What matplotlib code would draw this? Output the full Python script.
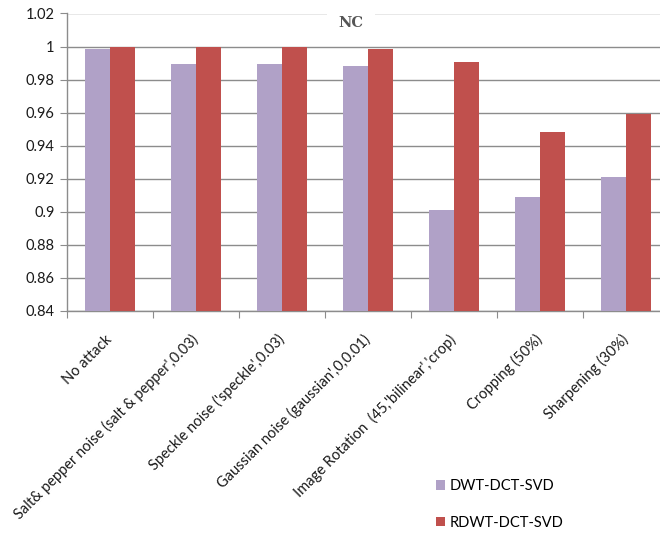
import matplotlib
matplotlib.use('Agg')
import matplotlib.pyplot as plt
import numpy as np
from matplotlib.patches import Patch
from matplotlib.ticker import FixedLocator, FuncFormatter

plt.rcParams['font.family'] = ['Lato', 'DejaVu Sans']

categories = [
    "No attack",
    "Salt& pepper noise (salt & pepper',0.03)",
    "Speckle noise ('speckle',0.03)",
    "Gaussian noise (gaussian',0,0.01)",
    "Image Rotation  (45,'bilinear','crop)",
    "Cropping (50%)",
    "Sharpening (30%)",
]
series_names = ['DWT-DCT-SVD', 'RDWT-DCT-SVD']
dwt_values = [0.9988, 0.9895, 0.9895, 0.9885, 0.901, 0.9087, 0.921]
rdwt_values = [1.0, 1.0, 1.0, 0.9985, 0.9905, 0.9482, 0.9591]
y_ticks = [0.84, 0.86, 0.88, 0.90, 0.92, 0.94, 0.96, 0.98, 1.00, 1.02]
title_text = 'NC'

purple = '#B0A1C7'
red = '#C0504D'
grid_gray = '#8C8C8C'

W, H = 660, 535
fig = plt.figure(figsize=(W / 100, H / 100), dpi=100)
# axes extends slightly past the right edge, like the source
ax_left, ax_right, ax_top, ax_bottom = 67, 669, 13.5, 311
ax = fig.add_axes([ax_left / W, 1 - ax_bottom / H,
                   (ax_right - ax_left) / W, (ax_bottom - ax_top) / H])

x = np.arange(len(categories))
bar_w = 0.287
ax.bar(x - bar_w / 2, dwt_values, bar_w, color=purple, zorder=3)
ax.bar(x + bar_w / 2, rdwt_values, bar_w, color=red, zorder=3)

ax.set_xlim(-0.5, len(categories) - 0.5)
ax.set_ylim(y_ticks[0], y_ticks[-1])
ax.set_yticks(y_ticks)
ax.yaxis.set_major_formatter(FuncFormatter(lambda v, p: f'{round(v, 2):g}'))
ax.yaxis.grid(True, color=grid_gray, linewidth=1.0, zorder=0)
ax.set_axisbelow(True)

# ticks between groups, labels under group centres
ax.xaxis.set_major_locator(FixedLocator(np.arange(-0.5, len(categories), 1.0)))
ax.xaxis.set_major_formatter(FuncFormatter(lambda v, p: ''))
ax.xaxis.set_minor_locator(FixedLocator(x))
ax.set_xticklabels(categories, minor=True, rotation=45, ha='right',
                   va='center', rotation_mode='anchor', fontsize=10.5, color='#1a1a1a')
ax.tick_params(axis='x', which='minor', length=0, pad=19)
ax.tick_params(axis='x', which='major', length=5, color=grid_gray, direction='out')
ax.tick_params(axis='y', length=5, color=grid_gray, labelsize=10.5, labelcolor='#1a1a1a', pad=4)

for side in ['top', 'right']:
    ax.spines[side].set_visible(False)
for side in ['left', 'bottom']:
    ax.spines[side].set_color(grid_gray)
    ax.spines[side].set_linewidth(1.0)

fig.text(351 / W, 1 - 23 / H, title_text, ha='center', va='center',
         fontsize=10.5, fontweight='bold', color='#555555', family='DejaVu Serif',
         bbox=dict(boxstyle='square,pad=0.8', facecolor='white', edgecolor='none'))

handles = [Patch(facecolor=purple, edgecolor='none'), Patch(facecolor=red, edgecolor='none')]
fig.legend(handles, series_names, loc='upper left',
           bbox_to_anchor=(436 / W, 1 - 479 / H), frameon=False,
           fontsize=10.5, handlelength=0.65, handleheight=0.65,
           handletextpad=0.3, labelspacing=1.55, borderpad=0, borderaxespad=0)

fig.savefig('out.png', dpi=100)
